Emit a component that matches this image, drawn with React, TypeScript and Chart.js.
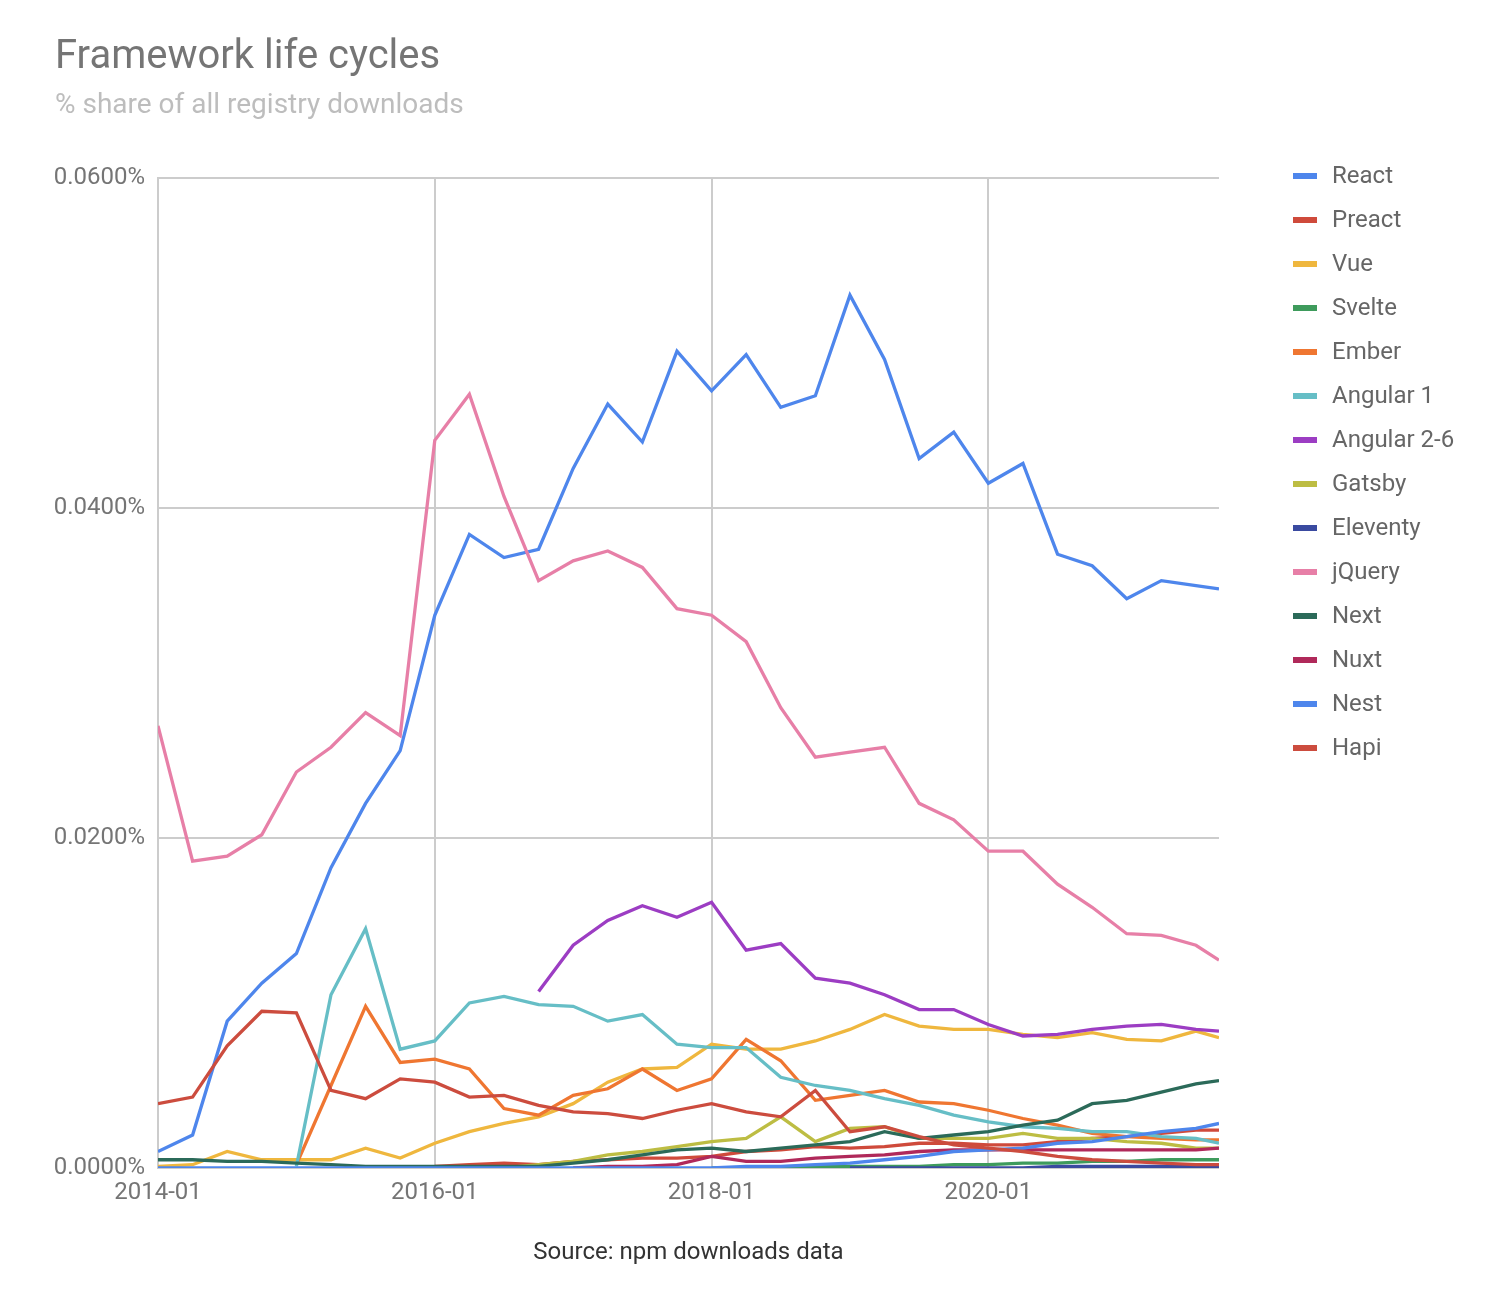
import React, { useEffect, useRef } from "react";
import { Chart, registerables } from "chart.js";

Chart.register(...registerables);

// x positions: months since 2014-01 (quarterly samples, last partial)
const MONTHS = [0, 3, 6, 9, 12, 15, 18, 21, 24, 27, 30, 33, 36, 39, 42, 45, 48, 51, 54, 57, 60, 63, 66, 69, 72, 75, 78, 81, 84, 87, 90, 92];
const X_TICK_MONTHS = [0, 24, 48, 72];
const X_TICK_LABELS = ["2014-01", "2016-01", "2018-01", "2020-01"];
const Y_TICKS = [0, 0.02, 0.04, 0.06];

const TITLE = "Framework life cycles";
const SUBTITLE = "% share of all registry downloads";
const SOURCE = "Source: npm downloads data";

const SERIES_NAMES = ["React", "Preact", "Vue", "Svelte", "Ember", "Angular 1", "Angular 2-6", "Gatsby", "Eleventy", "jQuery", "Next", "Nuxt", "Nest", "Hapi"];
const SERIES_COLORS = ["#4e86ec", "#cf4a3b", "#efb73e", "#3e9b5c", "#ef7631", "#66bec6", "#9c3dc3", "#bdbd43", "#3a4aa0", "#e77fa7", "#2b6a59", "#b0295a", "#4e86ec", "#cc4c3e"];

const react = [0.0010, 0.0020, 0.0089, 0.0112, 0.0130, 0.0182, 0.0221, 0.0253, 0.0335, 0.0384, 0.0370, 0.0375, 0.0424, 0.0463, 0.0440, 0.0495, 0.0471, 0.0493, 0.0461, 0.0468, 0.0529, 0.0490, 0.0430, 0.0446, 0.0415, 0.0427, 0.0372, 0.0365, 0.0345, 0.0356, 0.0353, 0.0351];
const preact = [null, null, null, null, null, null, null, null, 0.0001, 0.0002, 0.0003, 0.0002, 0.0004, 0.0005, 0.0006, 0.0006, 0.0007, 0.0010, 0.0011, 0.0013, 0.0012, 0.0013, 0.0015, 0.0015, 0.0014, 0.0014, 0.0016, 0.0018, 0.0019, 0.0021, 0.0023, 0.0023];
const vue = [0.0001, 0.0002, 0.0010, 0.0005, 0.0005, 0.0005, 0.0012, 0.0006, 0.0015, 0.0022, 0.0027, 0.0031, 0.0039, 0.0052, 0.0060, 0.0061, 0.0075, 0.0072, 0.0072, 0.0077, 0.0084, 0.0093, 0.0086, 0.0084, 0.0084, 0.0081, 0.0079, 0.0082, 0.0078, 0.0077, 0.0083, 0.0079];
const svelte = [null, null, null, null, null, null, null, null, null, null, null, null, null, null, null, null, 0.0000, 0.0000, 0.0000, 0.0001, 0.0001, 0.0001, 0.0001, 0.0002, 0.0002, 0.0003, 0.0003, 0.0004, 0.0004, 0.0005, 0.0005, 0.0005];
const ember = [null, null, null, null, 0.0002, 0.0050, 0.0098, 0.0064, 0.0066, 0.0060, 0.0036, 0.0032, 0.0044, 0.0048, 0.0060, 0.0047, 0.0054, 0.0078, 0.0065, 0.0041, 0.0044, 0.0047, 0.0040, 0.0039, 0.0035, 0.0030, 0.0026, 0.0021, 0.0019, 0.0018, 0.0017, 0.0017];
const angular1 = [null, null, null, null, 0.0001, 0.0105, 0.0145, 0.0072, 0.0077, 0.0100, 0.0104, 0.0099, 0.0098, 0.0089, 0.0093, 0.0075, 0.0073, 0.0073, 0.0055, 0.0050, 0.0047, 0.0042, 0.0038, 0.0032, 0.0028, 0.0025, 0.0024, 0.0022, 0.0022, 0.0019, 0.0018, 0.0015];
const angular26 = [null, null, null, null, null, null, null, null, null, null, null, 0.0107, 0.0135, 0.0150, 0.0159, 0.0152, 0.0161, 0.0132, 0.0136, 0.0115, 0.0112, 0.0105, 0.0096, 0.0096, 0.0087, 0.0080, 0.0081, 0.0084, 0.0086, 0.0087, 0.0084, 0.0083];
const gatsby = [null, null, null, null, null, null, null, null, null, null, 0.0000, 0.0002, 0.0004, 0.0008, 0.0010, 0.0013, 0.0016, 0.0018, 0.0031, 0.0016, 0.0024, 0.0025, 0.0018, 0.0018, 0.0018, 0.0021, 0.0018, 0.0018, 0.0016, 0.0015, 0.0012, 0.0012];
const eleventy = [null, null, null, null, null, null, null, null, null, null, null, null, null, null, null, null, null, null, null, null, 0.0000, 0.0000, 0.0000, 0.0000, 0.0000, 0.0000, 0.0001, 0.0001, 0.0001, 0.0001, 0.0001, 0.0001];
const jquery = [0.0268, 0.0186, 0.0189, 0.0202, 0.0240, 0.0255, 0.0276, 0.0262, 0.0441, 0.0469, 0.0407, 0.0356, 0.0368, 0.0374, 0.0364, 0.0339, 0.0335, 0.0319, 0.0279, 0.0249, 0.0252, 0.0255, 0.0221, 0.0211, 0.0192, 0.0192, 0.0172, 0.0158, 0.0142, 0.0141, 0.0135, 0.0126];
const next = [0.0005, 0.0005, 0.0004, 0.0004, 0.0003, 0.0002, 0.0001, 0.0001, 0.0001, 0.0001, 0.0001, 0.0001, 0.0003, 0.0005, 0.0008, 0.0011, 0.0012, 0.0010, 0.0012, 0.0014, 0.0016, 0.0022, 0.0018, 0.0020, 0.0022, 0.0026, 0.0029, 0.0039, 0.0041, 0.0046, 0.0051, 0.0053];
const nuxt = [null, null, null, null, null, null, null, null, null, null, null, null, 0.0000, 0.0001, 0.0001, 0.0002, 0.0007, 0.0004, 0.0004, 0.0006, 0.0007, 0.0008, 0.0010, 0.0011, 0.0011, 0.0011, 0.0011, 0.0011, 0.0011, 0.0011, 0.0011, 0.0012];
const nest = [0.0000, 0.0000, 0.0000, 0.0000, 0.0000, 0.0000, 0.0000, 0.0000, 0.0000, 0.0000, 0.0000, 0.0000, 0.0000, 0.0000, 0.0000, 0.0000, 0.0000, 0.0001, 0.0001, 0.0002, 0.0003, 0.0005, 0.0007, 0.0010, 0.0011, 0.0012, 0.0015, 0.0016, 0.0019, 0.0022, 0.0024, 0.0027];
const hapi = [0.0039, 0.0043, 0.0074, 0.0095, 0.0094, 0.0047, 0.0042, 0.0054, 0.0052, 0.0043, 0.0044, 0.0038, 0.0034, 0.0033, 0.0030, 0.0035, 0.0039, 0.0034, 0.0031, 0.0047, 0.0022, 0.0025, 0.0019, 0.0014, 0.0012, 0.0010, 0.0007, 0.0005, 0.0004, 0.0003, 0.0002, 0.0002];

const SERIES_VALUES = [react, preact, vue, svelte, ember, angular1, angular26, gatsby, eleventy, jquery, next, nuxt, nest, hapi];

const FONT = "Roboto, 'Noto Sans', sans-serif";

const overlayPlugin = {
  id: "overlay",
  afterDraw(chart: any) {
    const ctx = chart.ctx;
    const ca = chart.chartArea;
    ctx.save();
    ctx.textAlign = "left";
    ctx.textBaseline = "alphabetic";
    ctx.fillStyle = "#757575";
    ctx.font = `40px ${FONT}`;
    ctx.fillText(TITLE, 55, 68);
    ctx.fillStyle = "#bdbdbd";
    ctx.font = `28px ${FONT}`;
    ctx.fillText(SUBTITLE, 55, 113);

    ctx.textAlign = "center";
    ctx.fillStyle = "#333333";
    ctx.font = `24px ${FONT}`;
    ctx.fillText(SOURCE, (ca.left + ca.right) / 2, 1259);

    // legend
    ctx.textAlign = "left";
    ctx.textBaseline = "middle";
    ctx.font = `24px ${FONT}`;
    SERIES_NAMES.forEach((name, i) => {
      const y = 177 + 44 * i;
      ctx.fillStyle = SERIES_COLORS[i];
      ctx.fillRect(1293, y - 4, 24, 6);
      ctx.fillStyle = "#666666";
      ctx.fillText(name, 1332, y);
    });
    ctx.restore();
  },
};

export default function App() {
  const ref = useRef<HTMLCanvasElement>(null);
  useEffect(() => {
    document.body.style.margin = "0";
    const canvas = ref.current!;
    const datasets = SERIES_NAMES.map((name, i) => ({
      label: name,
      data: MONTHS.map((m, j) => ({ x: m, y: SERIES_VALUES[i][j] })),
      borderColor: SERIES_COLORS[i],
      backgroundColor: SERIES_COLORS[i],
      borderWidth: 3.3,
      pointRadius: 0,
      tension: 0,
      fill: false,
      spanGaps: false,
      order: -i,
    }));
    const chart = new Chart(canvas, {
      type: "line",
      data: { datasets },
      plugins: [overlayPlugin],
      options: {
        animation: false,
        responsive: false,
        devicePixelRatio: 1,
        layout: { padding: { left: 0, right: 277, top: 178, bottom: 86 } },
        plugins: { legend: { display: false }, title: { display: false }, tooltip: { enabled: false } },
        scales: {
          x: {
            type: "linear",
            min: 0,
            max: 92,
            afterBuildTicks: (scale: any) => {
              scale.ticks = X_TICK_MONTHS.map((v) => ({ value: v }));
            },
            afterFit: (scale: any) => {
              scale.height = 50;
            },
            grid: { color: "#cccccc", lineWidth: 2, drawTicks: false },
            border: { display: false },
            ticks: {
              padding: 11,
              maxRotation: 0,
              autoSkip: false,
              color: "#757575",
              font: { family: FONT, size: 24 },
              callback: (v: any) => {
                const k = X_TICK_MONTHS.indexOf(Number(v));
                return k >= 0 ? X_TICK_LABELS[k] : "";
              },
            },
          },
          y: {
            type: "linear",
            min: 0,
            max: 0.06,
            afterBuildTicks: (scale: any) => {
              scale.ticks = Y_TICKS.map((v) => ({ value: v }));
            },
            afterFit: (scale: any) => {
              scale.width = 158;
            },
            grid: { color: "#cccccc", lineWidth: 2, drawTicks: false },
            border: { display: true, color: "#cccccc", width: 2 },
            ticks: {
              padding: 13,
              color: "#757575",
              font: { family: FONT, size: 24 },
              callback: (v: any) => Number(v).toFixed(4) + "%",
            },
          },
        },
      },
    } as any);
    return () => chart.destroy();
  }, []);
  return (
    <canvas
      ref={ref}
      width={1496}
      height={1304}
      style={{ display: "block", width: "1496px", height: "1304px" }}
    />
  );
}
